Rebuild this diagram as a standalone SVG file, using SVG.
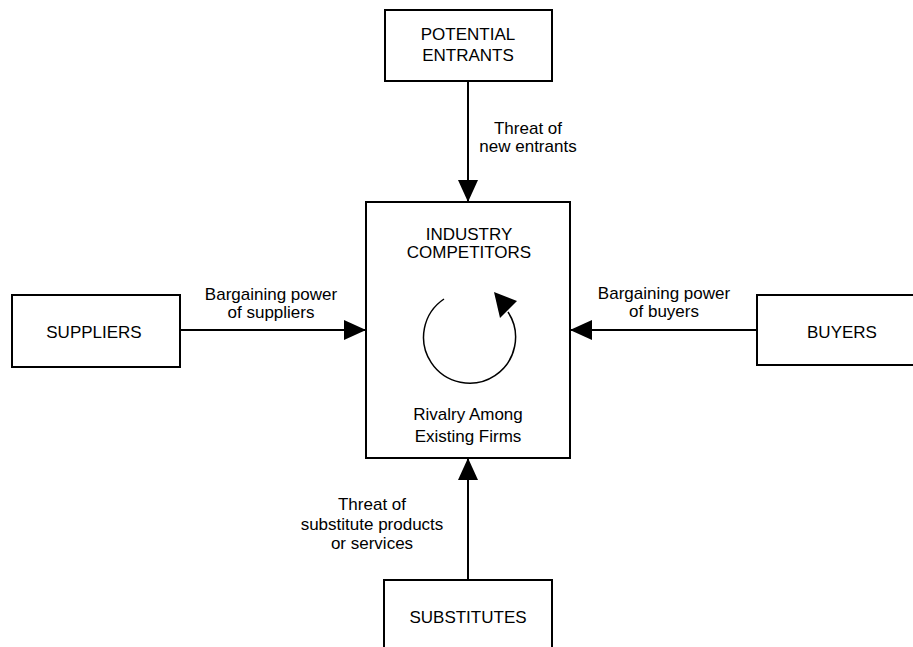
<svg xmlns="http://www.w3.org/2000/svg" width="913" height="647" viewBox="0 0 913 647">
<defs>
<style>
.box{fill:#fff;stroke:#000;stroke-width:2}
.ln{fill:none;stroke:#000;stroke-width:2}
.t{font-family:"Liberation Sans",Arial,sans-serif;font-size:17px;fill:#000;text-anchor:middle}
</style>
<marker id="ah" viewBox="0 0 22 20" refX="22" refY="10" markerWidth="22" markerHeight="20" markerUnits="userSpaceOnUse" orient="auto">
<path d="M0,0 L22,10 L0,20 Z" fill="#000"/>
</marker>
</defs>
<rect width="913" height="647" fill="#fff"/>
<g id="connectors">
<line class="ln" x1="468" y1="81" x2="468" y2="202" marker-end="url(#ah)"/>
<line class="ln" x1="180" y1="330" x2="366" y2="330" marker-end="url(#ah)"/>
<line class="ln" x1="757" y1="330" x2="570" y2="330" marker-end="url(#ah)"/>
<line class="ln" x1="468" y1="580" x2="468" y2="458" marker-end="url(#ah)"/>
<text class="t"><tspan x="528" y="134">Threat of</tspan><tspan x="528" y="152">new entrants</tspan></text>
<text class="t"><tspan x="271" y="300">Bargaining power</tspan><tspan x="271" y="318">of suppliers</tspan></text>
<text class="t"><tspan x="664" y="299">Bargaining power</tspan><tspan x="664" y="317">of buyers</tspan></text>
<text class="t"><tspan x="372" y="510">Threat of</tspan><tspan x="372" y="530">substitute products</tspan><tspan x="372" y="549">or services</tspan></text>
</g>
<g id="potential-entrants">
<rect class="box" x="385" y="10" width="167" height="71"/>
<text class="t"><tspan x="468" y="40">POTENTIAL</tspan><tspan x="468" y="61">ENTRANTS</tspan></text>
</g>
<g id="industry-competitors">
<rect class="box" x="366" y="202" width="204" height="256"/>
<text class="t"><tspan x="469" y="240">INDUSTRY</tspan><tspan x="469" y="258">COMPETITORS</tspan></text>
<path d="M444,299 A46,46 0 1 0 508,312" fill="none" stroke="#000" stroke-width="1.5"/>
<polygon points="494,292 517,301 500,318" fill="#000"/>
<text class="t"><tspan x="468" y="420">Rivalry Among</tspan><tspan x="468" y="442">Existing Firms</tspan></text>
</g>
<g id="suppliers">
<rect class="box" x="12" y="295" width="168" height="72"/>
<text class="t" x="94" y="338">SUPPLIERS</text>
</g>
<g id="buyers">
<rect class="box" x="757" y="295" width="170" height="70"/>
<text class="t" x="842" y="338">BUYERS</text>
</g>
<g id="substitutes">
<rect class="box" x="384" y="580" width="168" height="80"/>
<text class="t" x="468" y="623">SUBSTITUTES</text>
</g>
</svg>
